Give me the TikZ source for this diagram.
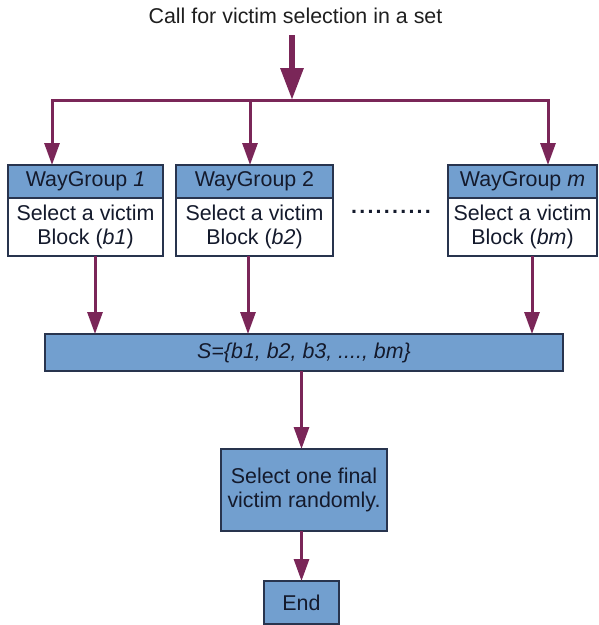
\documentclass[tikz,border=0pt]{standalone}
\usepackage{fontspec}
\setmainfont{Liberation Sans}
\usepackage{tikz}
\usetikzlibrary{positioning,arrows.meta,calc}
\definecolor{boxfillc}{RGB}{114,159,207}
\definecolor{boxlinec}{RGB}{40,52,78}
\definecolor{flowc}{RGB}{122,38,88}
\definecolor{textc}{RGB}{20,26,44}
\newcommand\bigfont{\fontsize{21.4}{24}\selectfont}
\newcommand\dotrow{\hbox to 82pt{\xleaders\hbox to 8.2pt{\hss.\hss}\hfill}}
\tikzset{
  hdr/.style     = {draw=boxlinec, line width=1.2pt, fill=boxfillc, minimum height=33pt,
                    inner sep=0pt, outer sep=0pt, text=textc, font=\bigfont},
  body/.style    = {draw=boxlinec, line width=1.2pt, fill=white, minimum height=58pt,
                    inner sep=0pt, outer sep=0pt, align=center, text=textc, font=\bigfont},
  proc/.style    = {draw=boxlinec, line width=1.2pt, fill=boxfillc, inner sep=0pt,
                    outer sep=0pt, align=center, text=textc, font=\bigfont},
  flow/.style    = {-{Triangle[length=22pt,width=15pt]}, line width=3pt, draw=flowc},
  bigflow/.style = {-{Triangle[length=32pt,width=22pt]}, line width=6pt, draw=flowc},
  bus/.style     = {line width=3pt, line cap=rect, draw=flowc},
}

\begin{document}
\begin{tikzpicture}[x=1pt, y=-1pt]
\useasboundingbox (0,0) rectangle (599,625);

% ---- the call and the split ----
\node[font=\bigfont, text=black!88] (call) at (295.5,16) {Call for victim selection in a set};
\coordinate (calltop) at (292,35);
\coordinate (split) at (292,100);
\coordinate (bus1) at (52,100);
\coordinate (bus2) at (250,100);
\coordinate (busm) at (548,100);

% ---- the way groups ----
\node[hdr, minimum width=155pt] (hdr1) at (85.5,181.5) {WayGroup \textit{1}};
\node[body, minimum width=155pt, below=0pt of hdr1] (body1) {Select a victim\\Block (\textit{b1})};
\node[hdr, minimum width=157pt] (hdr2) at (254.5,181.5) {WayGroup 2};
\node[body, minimum width=157pt, below=0pt of hdr2] (body2) {Select a victim\\Block (\textit{b2})};
\node[hdr, minimum width=149pt] (hdrm) at (522.5,181.5) {WayGroup \textit{m}};
\node[body, minimum width=149pt, below=0pt of hdrm] (bodym) {Select a victim\\Block (\textit{bm})};
\node[text=textc, font=\bigfont\bfseries] (dots) at (391,212) {\dotrow};

\coordinate (drop1) at (95,256);
\coordinate (drop2) at (248,256);
\coordinate (dropm) at (532,256);

% ---- the set and the final choice ----
\node[proc, minimum width=518pt, minimum height=37pt] (sset) at (304,352.5)
  {\textit{S=\{b1, b2, b3, ...., bm\}}};
\node[proc, minimum width=166pt, minimum height=82pt] (sel) at (304,490)
  {Select one final\\victim randomly.};
\node[proc, minimum width=75pt, minimum height=43pt] (endb) at (301.5,602.5) {End};

% ---- connectors ----
\draw[bigflow] (calltop) -- (split);
\draw[bus] (bus1) -- (busm);
\foreach \b/\h in {bus1/hdr1, bus2/hdr2, busm/hdrm}
  \draw[flow] (\b) -- (\b |- \h.north);
\foreach \d in {drop1, drop2, dropm}
  \draw[flow] (\d) -- (\d |- sset.north);
\draw[flow] (sset.south -| endb) -- (sel.north -| endb);
\draw[flow] (sel.south -| endb) -- (endb.north);

\end{tikzpicture}
\end{document}
